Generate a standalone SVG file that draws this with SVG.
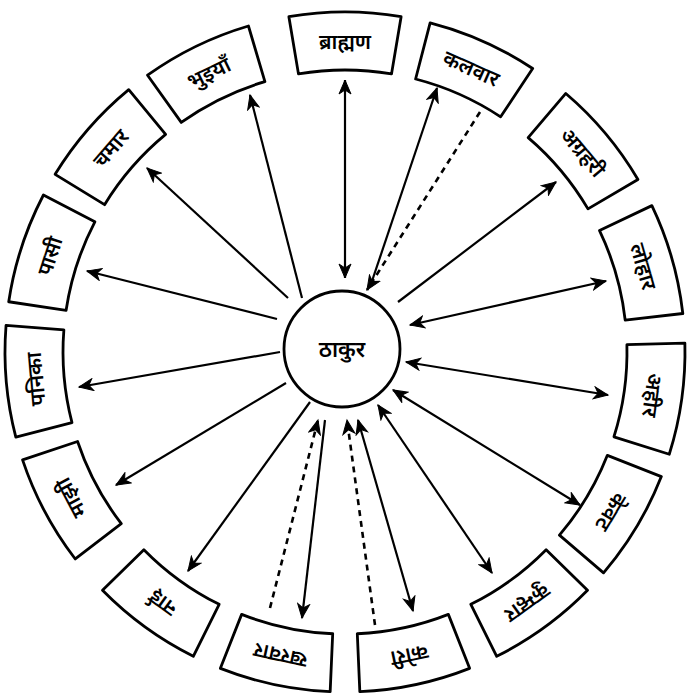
<svg xmlns="http://www.w3.org/2000/svg" xmlns:xlink="http://www.w3.org/1999/xlink" width="689" height="700" viewBox="0 0 689 700">
<style>
.box{fill:#fff;stroke:#000;stroke-width:2.8;stroke-linejoin:round}
.lbl{font-family:'Noto Sans Devanagari','Lohit Devanagari','Noto Sans',sans-serif;font-size:21px;font-weight:600;fill:#000;text-anchor:middle}
.ar{stroke:#000;stroke-width:2.2;fill:none}
.dash{stroke-dasharray:6 5;stroke-width:2.6}
.one{marker-end:url(#ah)}
.two{marker-end:url(#ah);marker-start:url(#ah)}
</style>
<defs>
<marker id="ah" markerUnits="userSpaceOnUse" markerWidth="18" markerHeight="14" refX="15" refY="7" orient="auto-start-reverse">
<path d="M1,1 L15,7 L1,13 L5,7 Z" fill="#000" stroke="#000" stroke-width="1"/>
</marker>
<path id="box" d="M288.88,16.66 A340,340 0 0 1 401.12,16.66 L391.54,73.87 A282,282 0 0 0 298.46,73.87 Z"/>
</defs>
<rect width="689" height="700" fill="#fff"/>

<g id="connectors">
<line class="ar one" x1="302" y1="298" x2="250" y2="95"/>
<line class="ar two" x1="345" y1="278" x2="345" y2="80"/>
<line class="ar one" x1="370" y1="287" x2="437" y2="88"/>
<line class="ar dash one" x1="480" y1="112" x2="367" y2="290"/>
<line class="ar one" x1="398" y1="302" x2="556" y2="182"/>
<line class="ar two" x1="410" y1="325" x2="606" y2="281"/>
<line class="ar two" x1="406" y1="362" x2="608" y2="395"/>
<line class="ar two" x1="393" y1="390" x2="580" y2="505"/>
<line class="ar two" x1="378" y1="405" x2="492" y2="573"/>
<line class="ar two" x1="358" y1="420" x2="413" y2="611"/>
<line class="ar dash one" x1="375" y1="625" x2="347" y2="420"/>
<line class="ar one" x1="325" y1="420" x2="302" y2="618"/>
<line class="ar dash one" x1="270" y1="608" x2="318" y2="420"/>
<line class="ar one" x1="310" y1="402" x2="188" y2="571"/>
<line class="ar one" x1="286" y1="383" x2="116" y2="485"/>
<line class="ar one" x1="280" y1="352" x2="79" y2="387"/>
<line class="ar one" x1="277" y1="319" x2="87" y2="271"/>
<line class="ar one" x1="288" y1="298" x2="147" y2="168"/>
</g>

<g id="thakur">
<circle cx="342" cy="349" r="58" fill="#fff" stroke="#000" stroke-width="2.8"/>
<text class="lbl" x="342" y="357" style="font-size:22px">ठाकुर</text>
</g>

<g id="bhuiyan" transform="rotate(334 345 352)"><use href="#box" class="box"/><text class="lbl" x="345" y="49">भुइयाँ</text></g>
<g id="brahman" transform="rotate(0 345 352)"><use href="#box" class="box"/><text class="lbl" x="345" y="49">ब्राह्मण</text></g>
<g id="kalwar" transform="rotate(24 345 352)"><use href="#box" class="box"/><text class="lbl" x="345" y="49">कलवार</text></g>
<g id="agrahari" transform="rotate(50 345 352)"><use href="#box" class="box"/><text class="lbl" x="345" y="49">अग्रहरी</text></g>
<g id="lohar" transform="rotate(74 345 352)"><use href="#box" class="box"/><text class="lbl" x="345" y="49">लोहार</text></g>
<g id="ahir" transform="rotate(98 345 352)"><use href="#box" class="box"/><text class="lbl" x="345" y="49">अहीर</text></g>
<g id="kewat" transform="rotate(121 345 352)"><use href="#box" class="box"/><text class="lbl" x="345" y="49">केवट</text></g>
<g id="kumhar" transform="rotate(144 345 352)"><use href="#box" class="box"/><text class="lbl" x="345" y="49">कुम्हार</text></g>
<g id="kori" transform="rotate(168 345 352)"><use href="#box" class="box"/><text class="lbl" x="345" y="49">कोरी</text></g>
<g id="kharwar" transform="rotate(192 345 352)"><use href="#box" class="box"/><text class="lbl" x="345" y="49">खरवार</text></g>
<g id="nai" transform="rotate(216 345 352)"><use href="#box" class="box"/><text class="lbl" x="345" y="49">नाई</text></g>
<g id="majhi" transform="rotate(242 345 352)"><use href="#box" class="box"/><text class="lbl" x="345" y="49">माझी</text></g>
<g id="panika" transform="rotate(265 345 352)"><use href="#box" class="box"/><text class="lbl" x="345" y="49">पनिका</text></g>
<g id="pasi" transform="rotate(288 345 352)"><use href="#box" class="box"/><text class="lbl" x="345" y="49">पासी</text></g>
<g id="chamar" transform="rotate(311 345 352)"><use href="#box" class="box"/><text class="lbl" x="345" y="49">चमार</text></g>
</svg>
